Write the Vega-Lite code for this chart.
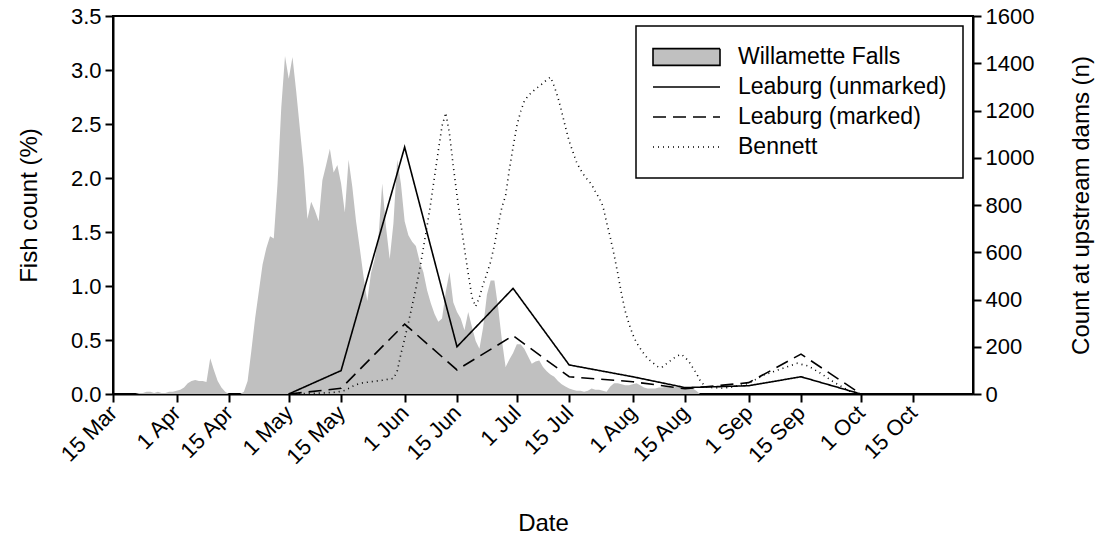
{
  "$schema": "https://vega.github.io/schema/vega-lite/v6.json",
  "width": 860,
  "height": 378,
  "autosize": {"type": "none"},
  "padding": {"left": 113, "top": 16, "right": 132, "bottom": 146},
  "background": "white",
  "config": {
    "font": "Liberation Sans",
    "view": {"stroke": "black", "strokeWidth": 2},
    "axis": {
      "domainColor": "black", "domainWidth": 2, "tickColor": "black", "tickWidth": 2, "tickSize": 8,
      "labelColor": "black", "titleColor": "black", "labelFont": "Liberation Sans", "titleFont": "Liberation Sans",
      "labelFontSize": 22, "titleFontSize": 24, "titleFontWeight": "normal", "grid": false, "labelPadding": 4
    }
  },
  "datasets": {
    "wf": [
      {"date": "2010-03-15", "pct": 0}, {"date": "2010-03-16", "pct": 0}, {"date": "2010-03-17", "pct": 0},
      {"date": "2010-03-18", "pct": 0}, {"date": "2010-03-19", "pct": 0}, {"date": "2010-03-20", "pct": 0},
      {"date": "2010-03-21", "pct": 0}, {"date": "2010-03-22", "pct": 0.01}, {"date": "2010-03-23", "pct": 0.01},
      {"date": "2010-03-24", "pct": 0.02}, {"date": "2010-03-25", "pct": 0.02}, {"date": "2010-03-26", "pct": 0.01},
      {"date": "2010-03-27", "pct": 0.02}, {"date": "2010-03-28", "pct": 0.01}, {"date": "2010-03-29", "pct": 0.01},
      {"date": "2010-03-30", "pct": 0.02}, {"date": "2010-03-31", "pct": 0.02}, {"date": "2010-04-01", "pct": 0.03},
      {"date": "2010-04-02", "pct": 0.04}, {"date": "2010-04-03", "pct": 0.06}, {"date": "2010-04-04", "pct": 0.10},
      {"date": "2010-04-05", "pct": 0.12}, {"date": "2010-04-06", "pct": 0.13}, {"date": "2010-04-07", "pct": 0.12},
      {"date": "2010-04-08", "pct": 0.12}, {"date": "2010-04-09", "pct": 0.11}, {"date": "2010-04-10", "pct": 0.33},
      {"date": "2010-04-11", "pct": 0.22}, {"date": "2010-04-12", "pct": 0.12}, {"date": "2010-04-13", "pct": 0.06},
      {"date": "2010-04-14", "pct": 0.02}, {"date": "2010-04-15", "pct": 0}, {"date": "2010-04-16", "pct": 0},
      {"date": "2010-04-17", "pct": 0}, {"date": "2010-04-18", "pct": 0}, {"date": "2010-04-19", "pct": 0.02},
      {"date": "2010-04-20", "pct": 0.12}, {"date": "2010-04-21", "pct": 0.40}, {"date": "2010-04-22", "pct": 0.70},
      {"date": "2010-04-23", "pct": 0.95}, {"date": "2010-04-24", "pct": 1.20}, {"date": "2010-04-25", "pct": 1.35},
      {"date": "2010-04-26", "pct": 1.46}, {"date": "2010-04-27", "pct": 1.44}, {"date": "2010-04-28", "pct": 1.95},
      {"date": "2010-04-29", "pct": 2.65}, {"date": "2010-04-30", "pct": 3.13}, {"date": "2010-05-01", "pct": 2.92},
      {"date": "2010-05-02", "pct": 3.12}, {"date": "2010-05-03", "pct": 2.80}, {"date": "2010-05-04", "pct": 2.45},
      {"date": "2010-05-05", "pct": 2.10}, {"date": "2010-05-06", "pct": 1.62}, {"date": "2010-05-07", "pct": 1.78},
      {"date": "2010-05-08", "pct": 1.70}, {"date": "2010-05-09", "pct": 1.60}, {"date": "2010-05-10", "pct": 1.98},
      {"date": "2010-05-11", "pct": 2.12}, {"date": "2010-05-12", "pct": 2.27}, {"date": "2010-05-13", "pct": 2.05},
      {"date": "2010-05-14", "pct": 2.12}, {"date": "2010-05-15", "pct": 1.95}, {"date": "2010-05-16", "pct": 1.68},
      {"date": "2010-05-17", "pct": 2.17}, {"date": "2010-05-18", "pct": 1.92}, {"date": "2010-05-19", "pct": 1.60},
      {"date": "2010-05-20", "pct": 1.35}, {"date": "2010-05-21", "pct": 1.09}, {"date": "2010-05-22", "pct": 0.86},
      {"date": "2010-05-23", "pct": 1.12}, {"date": "2010-05-24", "pct": 1.25}, {"date": "2010-05-25", "pct": 1.45},
      {"date": "2010-05-26", "pct": 1.95}, {"date": "2010-05-27", "pct": 1.55}, {"date": "2010-05-28", "pct": 1.25},
      {"date": "2010-05-29", "pct": 1.58}, {"date": "2010-05-30", "pct": 2.17}, {"date": "2010-05-31", "pct": 1.95},
      {"date": "2010-06-01", "pct": 1.60}, {"date": "2010-06-02", "pct": 1.47}, {"date": "2010-06-03", "pct": 1.41},
      {"date": "2010-06-04", "pct": 1.37}, {"date": "2010-06-05", "pct": 1.23}, {"date": "2010-06-06", "pct": 1.13},
      {"date": "2010-06-07", "pct": 0.96}, {"date": "2010-06-08", "pct": 0.84}, {"date": "2010-06-09", "pct": 0.74},
      {"date": "2010-06-10", "pct": 0.67}, {"date": "2010-06-11", "pct": 0.70}, {"date": "2010-06-12", "pct": 0.95},
      {"date": "2010-06-13", "pct": 1.13}, {"date": "2010-06-14", "pct": 0.85}, {"date": "2010-06-15", "pct": 0.76},
      {"date": "2010-06-16", "pct": 0.70}, {"date": "2010-06-17", "pct": 0.59}, {"date": "2010-06-18", "pct": 0.76},
      {"date": "2010-06-19", "pct": 0.62}, {"date": "2010-06-20", "pct": 0.49}, {"date": "2010-06-21", "pct": 0.42},
      {"date": "2010-06-22", "pct": 0.62}, {"date": "2010-06-23", "pct": 0.92}, {"date": "2010-06-24", "pct": 1.05},
      {"date": "2010-06-25", "pct": 1.05}, {"date": "2010-06-26", "pct": 0.80}, {"date": "2010-06-27", "pct": 0.50},
      {"date": "2010-06-28", "pct": 0.25}, {"date": "2010-06-29", "pct": 0.32}, {"date": "2010-06-30", "pct": 0.38},
      {"date": "2010-07-01", "pct": 0.46}, {"date": "2010-07-02", "pct": 0.46}, {"date": "2010-07-03", "pct": 0.42},
      {"date": "2010-07-04", "pct": 0.35}, {"date": "2010-07-05", "pct": 0.28}, {"date": "2010-07-06", "pct": 0.30},
      {"date": "2010-07-07", "pct": 0.31}, {"date": "2010-07-08", "pct": 0.25}, {"date": "2010-07-09", "pct": 0.21},
      {"date": "2010-07-10", "pct": 0.18}, {"date": "2010-07-11", "pct": 0.16}, {"date": "2010-07-12", "pct": 0.12},
      {"date": "2010-07-13", "pct": 0.09}, {"date": "2010-07-14", "pct": 0.07}, {"date": "2010-07-15", "pct": 0.05},
      {"date": "2010-07-16", "pct": 0.04}, {"date": "2010-07-17", "pct": 0.03}, {"date": "2010-07-18", "pct": 0.03},
      {"date": "2010-07-19", "pct": 0.02}, {"date": "2010-07-20", "pct": 0.03}, {"date": "2010-07-21", "pct": 0.05},
      {"date": "2010-07-22", "pct": 0.04}, {"date": "2010-07-23", "pct": 0.04}, {"date": "2010-07-24", "pct": 0.03},
      {"date": "2010-07-25", "pct": 0.02}, {"date": "2010-07-26", "pct": 0.07}, {"date": "2010-07-27", "pct": 0.10},
      {"date": "2010-07-28", "pct": 0.10}, {"date": "2010-07-29", "pct": 0.09}, {"date": "2010-07-30", "pct": 0.08},
      {"date": "2010-07-31", "pct": 0.08}, {"date": "2010-08-01", "pct": 0.09}, {"date": "2010-08-02", "pct": 0.10},
      {"date": "2010-08-03", "pct": 0.08}, {"date": "2010-08-04", "pct": 0.06}, {"date": "2010-08-05", "pct": 0.05},
      {"date": "2010-08-06", "pct": 0.05}, {"date": "2010-08-07", "pct": 0.05}, {"date": "2010-08-08", "pct": 0.06},
      {"date": "2010-08-09", "pct": 0.06}, {"date": "2010-08-10", "pct": 0.07}, {"date": "2010-08-11", "pct": 0.07},
      {"date": "2010-08-12", "pct": 0.06}, {"date": "2010-08-13", "pct": 0.07}, {"date": "2010-08-14", "pct": 0.06},
      {"date": "2010-08-15", "pct": 0.06}, {"date": "2010-08-16", "pct": 0.06}, {"date": "2010-08-17", "pct": 0.05},
      {"date": "2010-08-18", "pct": 0.03}, {"date": "2010-08-19", "pct": 0}
    ],
    "dams": [
      {"date": "2010-05-01", "series": "Leaburg (unmarked)", "n": 0},
      {"date": "2010-05-15", "series": "Leaburg (unmarked)", "n": 99},
      {"date": "2010-06-01", "series": "Leaburg (unmarked)", "n": 1045},
      {"date": "2010-06-15", "series": "Leaburg (unmarked)", "n": 200},
      {"date": "2010-06-30", "series": "Leaburg (unmarked)", "n": 447},
      {"date": "2010-07-15", "series": "Leaburg (unmarked)", "n": 123},
      {"date": "2010-08-01", "series": "Leaburg (unmarked)", "n": 73},
      {"date": "2010-08-15", "series": "Leaburg (unmarked)", "n": 27},
      {"date": "2010-09-01", "series": "Leaburg (unmarked)", "n": 35},
      {"date": "2010-09-15", "series": "Leaburg (unmarked)", "n": 73},
      {"date": "2010-10-01", "series": "Leaburg (unmarked)", "n": 0},
      {"date": "2010-05-01", "series": "Leaburg (marked)", "n": 0},
      {"date": "2010-05-15", "series": "Leaburg (marked)", "n": 24},
      {"date": "2010-06-01", "series": "Leaburg (marked)", "n": 296},
      {"date": "2010-06-15", "series": "Leaburg (marked)", "n": 102},
      {"date": "2010-06-30", "series": "Leaburg (marked)", "n": 247},
      {"date": "2010-07-15", "series": "Leaburg (marked)", "n": 73},
      {"date": "2010-08-01", "series": "Leaburg (marked)", "n": 52},
      {"date": "2010-08-15", "series": "Leaburg (marked)", "n": 22},
      {"date": "2010-09-01", "series": "Leaburg (marked)", "n": 48},
      {"date": "2010-09-15", "series": "Leaburg (marked)", "n": 169},
      {"date": "2010-10-01", "series": "Leaburg (marked)", "n": 0},
      {"date": "2010-05-01", "series": "Bennett", "n": 0},
      {"date": "2010-05-05", "series": "Bennett", "n": 2},
      {"date": "2010-05-10", "series": "Bennett", "n": 4},
      {"date": "2010-05-14", "series": "Bennett", "n": 8},
      {"date": "2010-05-16", "series": "Bennett", "n": 15},
      {"date": "2010-05-18", "series": "Bennett", "n": 32},
      {"date": "2010-05-20", "series": "Bennett", "n": 45},
      {"date": "2010-05-23", "series": "Bennett", "n": 52},
      {"date": "2010-05-26", "series": "Bennett", "n": 58},
      {"date": "2010-05-29", "series": "Bennett", "n": 66},
      {"date": "2010-05-30", "series": "Bennett", "n": 96},
      {"date": "2010-05-31", "series": "Bennett", "n": 170},
      {"date": "2010-06-01", "series": "Bennett", "n": 233},
      {"date": "2010-06-02", "series": "Bennett", "n": 301},
      {"date": "2010-06-03", "series": "Bennett", "n": 374},
      {"date": "2010-06-04", "series": "Bennett", "n": 446},
      {"date": "2010-06-05", "series": "Bennett", "n": 525},
      {"date": "2010-06-06", "series": "Bennett", "n": 618},
      {"date": "2010-06-07", "series": "Bennett", "n": 711},
      {"date": "2010-06-08", "series": "Bennett", "n": 811},
      {"date": "2010-06-09", "series": "Bennett", "n": 921},
      {"date": "2010-06-10", "series": "Bennett", "n": 1029},
      {"date": "2010-06-11", "series": "Bennett", "n": 1135},
      {"date": "2010-06-12", "series": "Bennett", "n": 1190},
      {"date": "2010-06-13", "series": "Bennett", "n": 1100},
      {"date": "2010-06-14", "series": "Bennett", "n": 965},
      {"date": "2010-06-15", "series": "Bennett", "n": 840},
      {"date": "2010-06-16", "series": "Bennett", "n": 725},
      {"date": "2010-06-17", "series": "Bennett", "n": 615},
      {"date": "2010-06-18", "series": "Bennett", "n": 510},
      {"date": "2010-06-19", "series": "Bennett", "n": 410},
      {"date": "2010-06-20", "series": "Bennett", "n": 370},
      {"date": "2010-06-21", "series": "Bennett", "n": 410},
      {"date": "2010-06-22", "series": "Bennett", "n": 465},
      {"date": "2010-06-23", "series": "Bennett", "n": 510},
      {"date": "2010-06-24", "series": "Bennett", "n": 560},
      {"date": "2010-06-25", "series": "Bennett", "n": 630},
      {"date": "2010-06-26", "series": "Bennett", "n": 715},
      {"date": "2010-06-27", "series": "Bennett", "n": 790},
      {"date": "2010-06-28", "series": "Bennett", "n": 840},
      {"date": "2010-06-29", "series": "Bennett", "n": 950},
      {"date": "2010-06-30", "series": "Bennett", "n": 1045},
      {"date": "2010-07-01", "series": "Bennett", "n": 1135},
      {"date": "2010-07-02", "series": "Bennett", "n": 1195},
      {"date": "2010-07-03", "series": "Bennett", "n": 1240},
      {"date": "2010-07-04", "series": "Bennett", "n": 1262},
      {"date": "2010-07-05", "series": "Bennett", "n": 1277},
      {"date": "2010-07-06", "series": "Bennett", "n": 1291},
      {"date": "2010-07-07", "series": "Bennett", "n": 1303},
      {"date": "2010-07-08", "series": "Bennett", "n": 1316},
      {"date": "2010-07-09", "series": "Bennett", "n": 1330},
      {"date": "2010-07-10", "series": "Bennett", "n": 1341},
      {"date": "2010-07-11", "series": "Bennett", "n": 1303},
      {"date": "2010-07-12", "series": "Bennett", "n": 1255},
      {"date": "2010-07-13", "series": "Bennett", "n": 1195},
      {"date": "2010-07-14", "series": "Bennett", "n": 1130},
      {"date": "2010-07-15", "series": "Bennett", "n": 1070},
      {"date": "2010-07-16", "series": "Bennett", "n": 1025},
      {"date": "2010-07-17", "series": "Bennett", "n": 980},
      {"date": "2010-07-18", "series": "Bennett", "n": 950},
      {"date": "2010-07-19", "series": "Bennett", "n": 925},
      {"date": "2010-07-20", "series": "Bennett", "n": 905},
      {"date": "2010-07-21", "series": "Bennett", "n": 887},
      {"date": "2010-07-22", "series": "Bennett", "n": 857},
      {"date": "2010-07-23", "series": "Bennett", "n": 830},
      {"date": "2010-07-24", "series": "Bennett", "n": 797},
      {"date": "2010-07-25", "series": "Bennett", "n": 727},
      {"date": "2010-07-26", "series": "Bennett", "n": 662},
      {"date": "2010-07-27", "series": "Bennett", "n": 590},
      {"date": "2010-07-28", "series": "Bennett", "n": 510},
      {"date": "2010-07-29", "series": "Bennett", "n": 424},
      {"date": "2010-07-30", "series": "Bennett", "n": 350},
      {"date": "2010-07-31", "series": "Bennett", "n": 297},
      {"date": "2010-08-01", "series": "Bennett", "n": 252},
      {"date": "2010-08-02", "series": "Bennett", "n": 218},
      {"date": "2010-08-03", "series": "Bennett", "n": 193},
      {"date": "2010-08-04", "series": "Bennett", "n": 170},
      {"date": "2010-08-05", "series": "Bennett", "n": 150},
      {"date": "2010-08-06", "series": "Bennett", "n": 137},
      {"date": "2010-08-07", "series": "Bennett", "n": 124},
      {"date": "2010-08-08", "series": "Bennett", "n": 112},
      {"date": "2010-08-09", "series": "Bennett", "n": 115},
      {"date": "2010-08-10", "series": "Bennett", "n": 128},
      {"date": "2010-08-11", "series": "Bennett", "n": 140},
      {"date": "2010-08-12", "series": "Bennett", "n": 152},
      {"date": "2010-08-13", "series": "Bennett", "n": 162},
      {"date": "2010-08-14", "series": "Bennett", "n": 168},
      {"date": "2010-08-15", "series": "Bennett", "n": 155},
      {"date": "2010-08-16", "series": "Bennett", "n": 138},
      {"date": "2010-08-17", "series": "Bennett", "n": 113},
      {"date": "2010-08-18", "series": "Bennett", "n": 88},
      {"date": "2010-08-19", "series": "Bennett", "n": 58},
      {"date": "2010-08-20", "series": "Bennett", "n": 38},
      {"date": "2010-08-21", "series": "Bennett", "n": 28},
      {"date": "2010-08-25", "series": "Bennett", "n": 25},
      {"date": "2010-08-28", "series": "Bennett", "n": 30},
      {"date": "2010-09-01", "series": "Bennett", "n": 45},
      {"date": "2010-09-05", "series": "Bennett", "n": 80},
      {"date": "2010-09-10", "series": "Bennett", "n": 108},
      {"date": "2010-09-14", "series": "Bennett", "n": 130},
      {"date": "2010-09-17", "series": "Bennett", "n": 118},
      {"date": "2010-09-20", "series": "Bennett", "n": 90},
      {"date": "2010-09-24", "series": "Bennett", "n": 48},
      {"date": "2010-09-28", "series": "Bennett", "n": 12},
      {"date": "2010-10-01", "series": "Bennett", "n": 0},
      {"date": "2010-10-15", "series": "Bennett", "n": 0},
      {"date": "2010-10-30", "series": "Bennett", "n": 0}
    ]
  },
  "layer": [
    {
      "data": {"name": "wf"},
      "mark": {"type": "area", "color": "#c0c0c0", "interpolate": "linear"},
      "encoding": {
        "x": {
          "field": "date", "type": "temporal",
          "scale": {"type": "utc", "domain": [1268611200000, 1288483200000]},
          "axis": {
            "title": "Date", "titlePadding": 44, "labelPadding": 7,
            "values": [1268611200000, 1270080000000, 1271289600000, 1272672000000, 1273881600000, 1275350400000, 1276560000000, 1277942400000, 1279152000000, 1280620800000, 1281830400000, 1283299200000, 1284508800000, 1285891200000, 1287100800000],
            "labelExpr": "utcFormat(datum.value, '%-d %b')",
            "labelAngle": -45, "labelAlign": "right", "labelBaseline": "middle", "labelOverlap": false, "labelFlush": false
          }
        },
        "y": {
          "field": "pct", "type": "quantitative",
          "scale": {"domain": [0, 3.5], "nice": false, "zero": true},
          "axis": {
            "orient": "left", "title": "Fish count (%)", "titlePadding": 29,
            "values": [0, 0.5, 1, 1.5, 2, 2.5, 3, 3.5], "format": ".1f"
          }
        }
      }
    },
    {
      "data": {"name": "dams"},
      "mark": {"type": "line", "color": "black", "strokeWidth": 1.6},
      "encoding": {
        "x": {"field": "date", "type": "temporal", "scale": {"type": "utc", "domain": [1268611200000, 1288483200000]}},
        "y": {
          "field": "n", "type": "quantitative",
          "scale": {"domain": [0, 1600], "nice": false},
          "axis": {
            "orient": "right", "title": "Count at upstream dams (n)", "titleAngle": -90, "titlePadding": 60,
            "values": [0, 200, 400, 600, 800, 1000, 1200, 1400, 1600], "format": "d"
          }
        },
        "strokeDash": {
          "field": "series", "type": "nominal",
          "scale": {
            "domain": ["Willamette Falls", "Leaburg (unmarked)", "Leaburg (marked)", "Bennett"],
            "range": [[1, 0], [1, 0], [13, 7], [1, 4]]
          },
          "legend": {
            "orient": "top-right", "offset": 10, "title": null, "padding": 16,
            "labelFontSize": 23, "labelFont": "Liberation Sans", "labelColor": "black", "labelLimit": 400, "labelOffset": 17,
            "symbolType": "stroke", "symbolSize": 4489, "symbolStrokeWidth": 1.6, "symbolStrokeColor": "black",
            "clipHeight": 30, "rowPadding": 0, "strokeColor": "black",
            "encode": {
              "legend": {"update": {"strokeWidth": {"value": 1.5}}},
              "symbols": {"update": {
                "shape": {"signal": "datum.value === 'Willamette Falls' ? 'M-1,-0.25H1V0.25H-1Z' : 'stroke'"},
                "fill": {"signal": "datum.value === 'Willamette Falls' ? '#c0c0c0' : 'transparent'"},
                "stroke": {"value": "black"}
              }}
            }
          }
        }
      }
    }
  ],
  "resolve": {"scale": {"y": "independent"}}
}
